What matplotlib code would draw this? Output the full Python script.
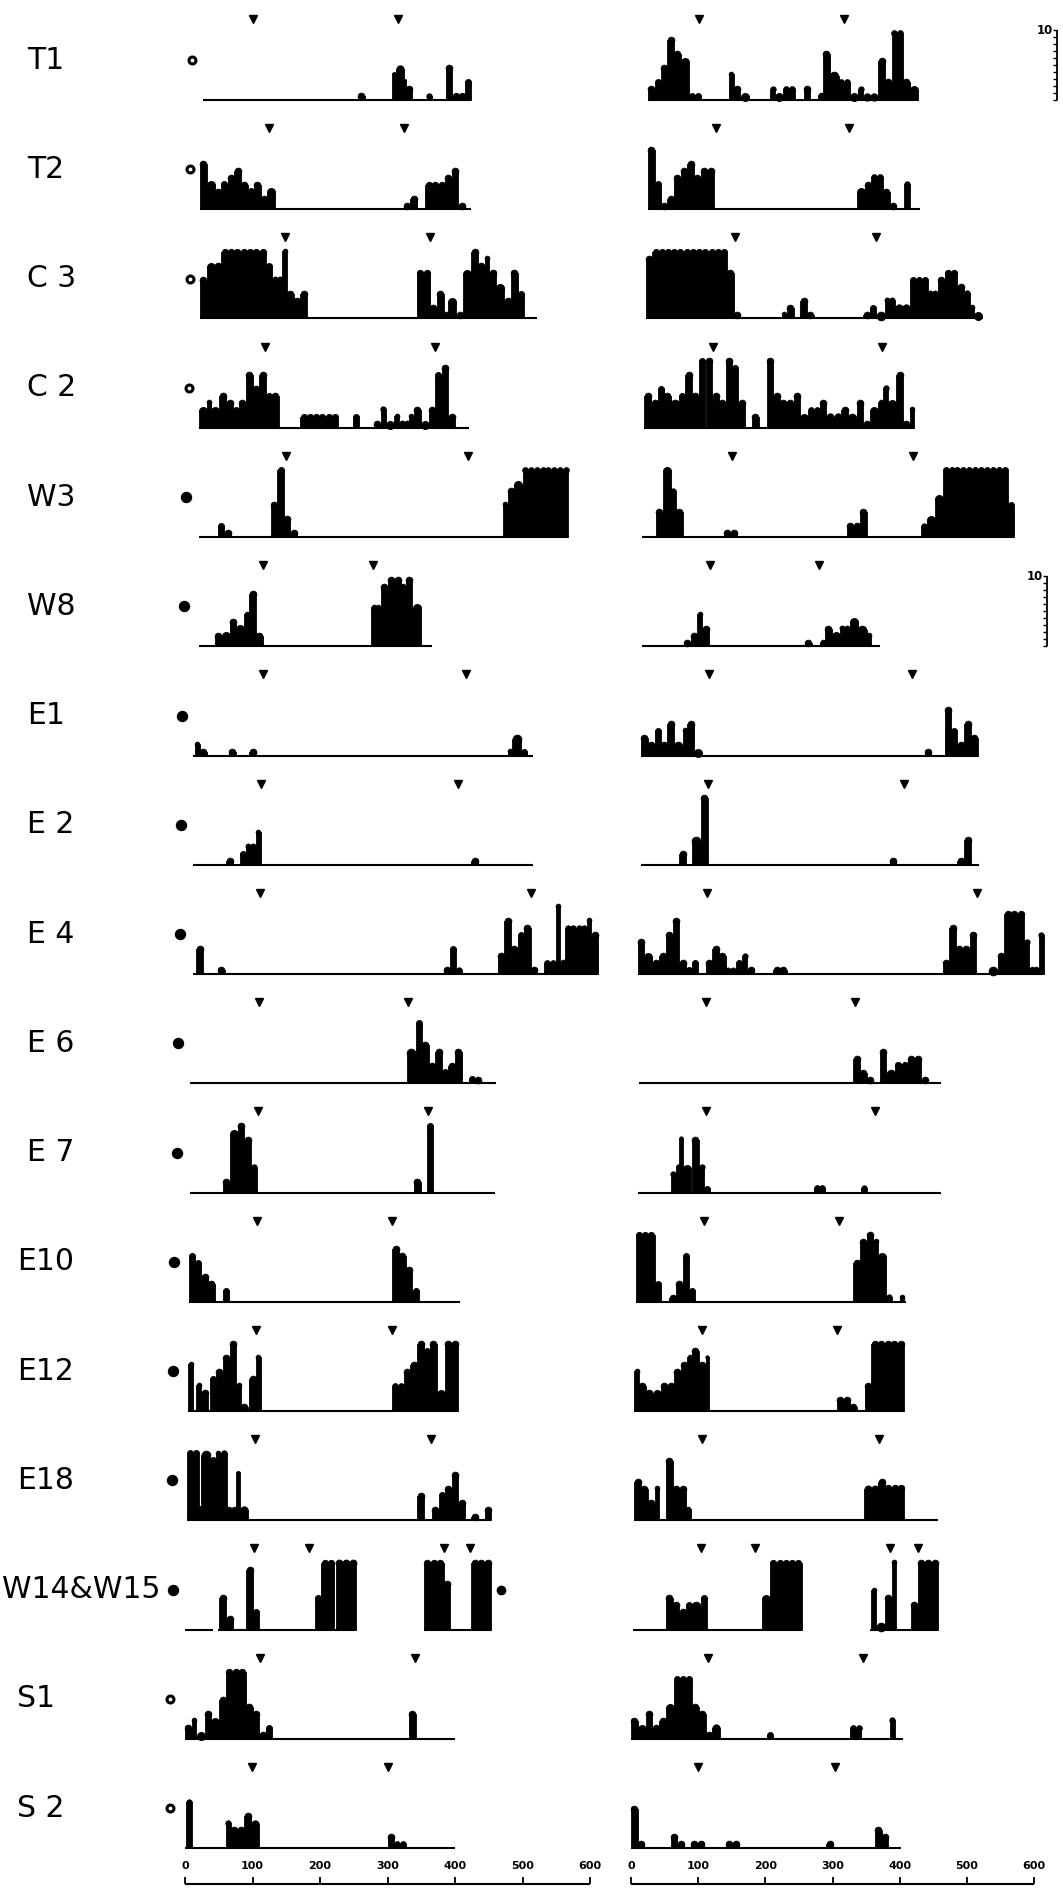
import numpy as np
import matplotlib
matplotlib.use("Agg")
import matplotlib.pyplot as plt

# row labels, top to bottom
labels = ['T1', 'T2', 'C 3', 'C 2', 'W3', 'W8', 'E1', 'E 2', 'E 4', 'E 6',
          'E 7', 'E10', 'E12', 'E18', 'W14&W15', 'S1', 'S 2']
# open (False) or filled (True) dot next to each label, and its time (s)
dot_filled = [False, False, False, False, True, True, True, True, True, True,
              True, True, True, True, True, False, False]
dot_t = [11, 8, 8, 6, 2, -2, -5, -6, -7, -11, -12, -16, -18, -19, -18, -22, -22]

# histogram runs: (start s, end s, count)
T1_left = [(256, 266, 1), (307, 313, 4), (313, 324, 5), (324, 327, 3), (327, 337, 2),
           (358, 366, 1), (386, 396, 5), (396, 415, 1), (415, 424, 3)]
T1_right = [(25, 35, 2), (35, 44, 3), (44, 54, 5), (54, 64, 9), (64, 74, 7), (74, 86, 6),
            (86, 104, 1), (146, 153, 4), (153, 163, 2), (163, 175, 1), (207, 215, 2),
            (215, 227, 1), (227, 244, 2), (257, 267, 2), (279, 286, 1), (286, 296, 7),
            (296, 309, 4), (309, 326, 3), (326, 338, 1), (338, 346, 2), (346, 368, 1),
            (368, 378, 6), (378, 388, 3), (388, 405, 10), (405, 415, 3), (415, 427, 2)]
T2_left = [(22, 32, 7), (32, 44, 4), (44, 54, 3), (54, 63, 4), (63, 73, 5), (73, 83, 6),
           (83, 93, 4), (93, 102, 3), (102, 112, 4), (112, 122, 2), (122, 134, 3),
           (324, 334, 1), (334, 344, 2), (356, 385, 4), (385, 395, 5), (395, 405, 6),
           (405, 415, 1)]
T2_right = [(25, 35, 9), (35, 44, 4), (44, 54, 1), (54, 64, 2), (64, 74, 5), (74, 84, 6),
            (84, 94, 7), (94, 104, 5), (104, 114, 6), (114, 124, 6), (336, 348, 3),
            (348, 358, 4), (358, 375, 5), (375, 385, 3), (385, 395, 1), (407, 415, 4)]
C3_left = [(22, 32, 6), (32, 44, 8), (44, 54, 8), (54, 120, 10), (120, 129, 8),
           (129, 144, 6), (144, 151, 10), (151, 161, 4), (161, 171, 3), (171, 181, 4),
           (344, 363, 7), (363, 373, 2), (373, 383, 4), (383, 390, 1), (390, 402, 3),
           (402, 412, 1), (412, 424, 7), (424, 434, 10), (434, 444, 8), (444, 451, 9),
           (451, 461, 7), (461, 473, 5), (473, 483, 3), (483, 493, 7), (493, 502, 4)]
C3_right = [(22, 32, 9), (32, 143, 10), (143, 153, 7), (153, 163, 1), (225, 232, 1),
            (232, 242, 2), (252, 262, 3), (262, 272, 1), (346, 356, 1), (356, 365, 2),
            (365, 378, 1), (378, 393, 3), (393, 415, 2), (415, 442, 6), (442, 457, 4),
            (457, 467, 6), (467, 486, 7), (486, 496, 5), (496, 504, 4), (504, 511, 2),
            (511, 523, 1)]
C2_left = [(20, 32, 3), (32, 39, 4), (39, 51, 3), (51, 61, 5), (61, 71, 4), (71, 80, 3),
           (80, 90, 4), (90, 100, 8), (100, 110, 6), (110, 120, 8), (120, 129, 5),
           (129, 139, 5), (171, 227, 2), (249, 258, 2), (280, 290, 1), (290, 298, 3),
           (298, 310, 1), (310, 317, 2), (317, 332, 1), (332, 339, 2), (339, 349, 3),
           (349, 361, 1), (361, 371, 3), (371, 380, 8), (380, 390, 9), (390, 400, 2)]
C2_right = [(20, 30, 5), (30, 40, 4), (40, 49, 6), (49, 59, 5), (59, 72, 4), (72, 81, 5),
            (81, 91, 8), (91, 101, 5), (101, 110, 10), (111, 121, 10), (121, 131, 5),
            (131, 141, 4), (141, 151, 10), (151, 160, 9), (160, 170, 4), (180, 190, 2),
            (202, 212, 10), (212, 222, 5), (222, 242, 4), (242, 252, 5), (252, 264, 2),
            (264, 281, 3), (281, 291, 4), (291, 313, 2), (313, 323, 3), (323, 336, 2),
            (336, 346, 4), (346, 356, 1), (356, 368, 3), (368, 375, 4), (375, 383, 6),
            (383, 395, 4), (395, 405, 8), (405, 415, 1), (415, 422, 3)]
W3_left = [(49, 58, 2), (58, 68, 1), (127, 137, 5), (137, 146, 10), (146, 156, 3),
           (156, 166, 1), (471, 478, 5), (478, 488, 7), (488, 500, 8), (500, 568, 10)]
W3_right = [(37, 47, 4), (47, 59, 10), (59, 67, 7), (67, 77, 4), (138, 158, 1),
            (321, 331, 2), (331, 341, 2), (341, 351, 4), (432, 440, 2), (440, 452, 3),
            (452, 464, 6), (464, 561, 10), (561, 570, 5)]
W8_left = [(44, 54, 2), (54, 66, 2), (66, 76, 4), (76, 88, 3), (88, 95, 5), (95, 105, 8),
           (105, 115, 2), (276, 290, 6), (290, 300, 9), (300, 320, 10), (320, 327, 9),
           (327, 337, 10), (337, 349, 6)]
W8_right = [(79, 89, 1), (89, 99, 2), (99, 106, 5), (106, 116, 3), (259, 269, 1),
            (282, 289, 1), (289, 299, 3), (299, 311, 2), (311, 326, 3), (326, 338, 4),
            (338, 351, 3), (351, 358, 2)]
E1_left = [(15, 22, 2), (22, 32, 1), (65, 75, 1), (95, 105, 1), (478, 485, 1),
           (485, 498, 3), (498, 507, 1)]
E1_right = [(15, 25, 3), (25, 35, 2), (35, 44, 4), (44, 54, 2), (54, 64, 5), (64, 77, 2),
            (77, 84, 4), (84, 94, 5), (94, 106, 1), (437, 447, 1), (467, 477, 7),
            (477, 486, 4), (486, 496, 2), (496, 506, 5), (506, 516, 3)]
E2_left = [(61, 71, 1), (81, 90, 2), (90, 105, 3), (105, 112, 5), (424, 434, 1)]
E2_right = [(72, 82, 2), (91, 104, 4), (104, 114, 10), (385, 395, 1), (486, 496, 1),
            (496, 506, 4)]
E4_left = [(17, 27, 4), (49, 59, 1), (383, 393, 1), (393, 402, 4), (402, 410, 1),
           (463, 473, 3), (473, 483, 8), (483, 493, 4), (493, 502, 6), (502, 512, 7),
           (512, 522, 1), (532, 549, 2), (549, 556, 10), (556, 563, 2), (563, 595, 7),
           (595, 602, 8), (602, 612, 6)]
E4_right = [(10, 20, 5), (20, 32, 3), (32, 42, 2), (42, 52, 3), (52, 62, 6), (62, 72, 8),
            (72, 82, 2), (82, 91, 1), (91, 100, 2), (111, 121, 2), (121, 131, 4),
            (131, 141, 3), (141, 156, 1), (156, 165, 2), (165, 173, 3), (173, 183, 1),
            (212, 232, 1), (464, 474, 2), (474, 484, 7), (484, 504, 4), (504, 514, 6),
            (533, 546, 1), (546, 556, 3), (556, 585, 9), (585, 593, 5), (593, 607, 1),
            (607, 615, 6)]
E6_left = [(329, 342, 5), (342, 351, 9), (351, 361, 6), (361, 371, 3), (371, 381, 5),
           (381, 390, 2), (390, 400, 3), (400, 410, 5), (420, 429, 1), (429, 439, 1)]
E6_right = [(331, 341, 4), (341, 351, 2), (351, 361, 1), (370, 380, 5), (380, 393, 2),
            (393, 412, 3), (412, 432, 4), (432, 442, 1)]
E7_left = [(56, 66, 2), (66, 78, 9), (78, 88, 10), (88, 98, 8), (98, 106, 4),
           (339, 349, 2), (359, 368, 10)]
E7_right = [(59, 67, 3), (67, 72, 4), (72, 77, 8), (77, 89, 4), (91, 101, 8),
            (101, 109, 4), (109, 118, 1), (272, 289, 1), (343, 351, 1)]
E10_left = [(6, 15, 7), (15, 24, 6), (24, 34, 4), (34, 44, 3), (56, 65, 2), (307, 317, 8),
            (317, 327, 7), (327, 337, 5), (337, 346, 2)]
E10_right = [(7, 35, 10), (35, 44, 3), (57, 67, 1), (67, 77, 3), (77, 86, 7), (86, 95, 2),
             (331, 341, 6), (341, 351, 9), (351, 361, 10), (361, 368, 9), (368, 380, 7),
             (380, 388, 1), (400, 407, 1)]
E12_left = [(5, 12, 7), (17, 24, 4), (24, 34, 3), (37, 46, 5), (46, 56, 6), (56, 66, 8),
            (66, 76, 10), (76, 83, 4), (83, 93, 1), (95, 105, 5), (105, 112, 8),
            (307, 324, 4), (324, 334, 6), (334, 344, 7), (344, 354, 10), (354, 363, 9),
            (363, 373, 10), (373, 385, 3), (385, 405, 10)]
E12_right = [(5, 12, 6), (12, 22, 4), (22, 32, 3), (32, 44, 3), (44, 54, 4), (54, 64, 4),
             (64, 74, 6), (74, 84, 7), (84, 91, 8), (91, 101, 9), (101, 111, 7),
             (111, 116, 8), (306, 316, 2), (316, 326, 2), (326, 336, 1), (348, 358, 4),
             (358, 407, 10)]
E18_left = [(3, 21, 10), (21, 24, 2), (24, 37, 10), (37, 46, 9), (46, 53, 10),
            (53, 54, 3), (54, 62, 10), (62, 76, 2), (76, 82, 7), (82, 93, 2),
            (344, 354, 4), (366, 376, 2), (376, 385, 4), (385, 395, 5), (395, 405, 7),
            (405, 415, 3), (424, 434, 1), (444, 454, 2)]
E18_right = [(5, 15, 6), (15, 25, 5), (25, 35, 3), (35, 42, 5), (52, 62, 9), (62, 72, 5),
             (72, 82, 5), (82, 89, 2), (347, 368, 5), (368, 378, 6), (378, 407, 5)]
W14_left = [(51, 61, 5), (61, 71, 2), (91, 101, 9), (101, 110, 3), (193, 202, 5),
            (202, 221, 10), (223, 254, 10), (354, 383, 10), (383, 393, 7), (424, 454, 10)]
W14_right = [(52, 62, 5), (62, 72, 4), (72, 82, 3), (82, 91, 4), (91, 104, 4),
             (104, 113, 5), (195, 207, 5), (207, 254, 10), (358, 365, 6), (365, 378, 1),
             (378, 388, 5), (388, 395, 10), (417, 427, 4), (427, 457, 10)]
S1_left = [(0, 10, 2), (10, 17, 3), (17, 29, 1), (29, 39, 4), (39, 51, 3), (51, 61, 6),
           (61, 90, 10), (90, 100, 5), (100, 110, 4), (110, 120, 1), (120, 129, 2),
           (332, 342, 4)]
S1_right = [(0, 10, 3), (10, 22, 2), (22, 32, 4), (32, 42, 2), (42, 52, 3), (52, 64, 5),
            (64, 91, 9), (91, 101, 5), (101, 111, 4), (111, 121, 1), (121, 132, 2),
            (203, 212, 1), (326, 343, 2), (385, 393, 3)]
S2_left = [(2, 10, 7), (60, 68, 4), (68, 88, 3), (88, 98, 5), (98, 109, 4), (300, 310, 2),
           (310, 327, 1)]
S2_right = [(0, 10, 6), (10, 20, 1), (59, 69, 2), (69, 79, 1), (89, 109, 1), (141, 161, 1),
            (291, 301, 1), (363, 373, 3), (373, 383, 2)]

runs_left = [T1_left, T2_left, C3_left, C2_left, W3_left, W8_left, E1_left, E2_left,
             E4_left, E6_left, E7_left, E10_left, E12_left, E18_left, W14_left,
             S1_left, S2_left]
runs_right = [T1_right, T2_right, C3_right, C2_right, W3_right, W8_right, E1_right,
              E2_right, E4_right, E6_right, E7_right, E10_right, E12_right, E18_right,
              W14_right, S1_right, S2_right]

# time axis (baseline) extent of each record
base_left = [[(27, 424)], [(22, 424)], [(22, 522)], [(20, 420)], [(20, 568)], [(20, 366)],
             [(12, 515)], [(12, 515)], [(12, 612)], [(7, 461)], [(7, 459)], [(6, 407)],
             [(5, 405)], [(3, 454)], [(0, 41), (49, 254), (354, 454)], [(0, 400)],
             [(0, 400)]]
base_right = [[(25, 427)], [(25, 430)], [(22, 523)], [(20, 422)], [(17, 570)],
              [(17, 370)], [(15, 516)], [(15, 518)], [(10, 615)], [(12, 462)],
              [(10, 462)], [(7, 410)], [(5, 407)], [(5, 457)], [(3, 254), (356, 457)],
              [(0, 405)], [(0, 402)]]

# stimulus markers (s)
tri_left = [[101, 316], [125, 324], [148, 363], [118, 371], [149, 419], [116, 279],
            [116, 416], [112, 405], [111, 513], [109, 331], [108, 360], [106, 307],
            [105, 306], [103, 364], [102, 184, 384, 422], [111, 340], [99, 300]]
tri_right = [[101, 317], [126, 325], [155, 365], [122, 374], [151, 420], [118, 280],
             [116, 419], [115, 406], [113, 515], [111, 333], [112, 363], [109, 310],
             [106, 307], [105, 369], [104, 185, 386, 427], [115, 346], [100, 304]]

ticks = [0, 100, 200, 300, 400, 500, 600]

# ---- layout (pixels) ----
W, H = 1063, 1892
COLS = [(185, 590), (631, 1034)]
UNIT = 7.0            # px per count
Y0, DY = 100, 109.25  # first baseline, row spacing
YLO, YHI = -3, 13

fig = plt.figure(figsize=(W / 100, H / 100), dpi=100)


def make_axes(x0, x1, top, bottom, ylim):
    ax = fig.add_axes([x0 / W, 1 - bottom / H, (x1 - x0) / W, (bottom - top) / H])
    ax.set_xlim(0, 600)
    ax.set_ylim(*ylim)
    ax.axis('off')
    return ax


def draw_runs(ax, runs, px_per_s):
    for a, b, h in runs:
        n = max(1, int(round((b - a) / 9.0)))
        w = (b - a) / n
        r_px = w * px_per_s / 2
        top = max(h - r_px / UNIT, 0.05)
        ax.bar(a, top, width=b - a, align='edge', color='k', ec='k', lw=0.6,
               clip_on=False)
        xs = a + w * (np.arange(n) + 0.5)
        ax.scatter(xs, np.full(n, top), s=(2 * r_px * 0.72) ** 2, c='k', ec='k',
                   lw=0.6, marker='o', clip_on=False)


for r in range(len(labels)):
    yb = Y0 + r * DY
    for c, (runs, bases, tris) in enumerate([(runs_left, base_left, tri_left),
                                              (runs_right, base_right, tri_right)]):
        x0, x1 = COLS[c]
        pps = (x1 - x0) / 600.0
        ax = make_axes(x0, x1, yb - YHI * UNIT, yb - YLO * UNIT, (YLO, YHI))
        for a, b in bases[r]:
            ax.hlines(0, a, b, color='k', lw=1.5, clip_on=False)
        draw_runs(ax, runs[r], pps)
        ax.plot(tris[r], [11.6] * len(tris[r]), 'kv', ms=6, clip_on=False)
        if c == 0:
            fc = 'k' if dot_filled[r] else 'w'
            ax.plot(dot_t[r], 5.7, 'o', ms=6 if dot_filled[r] else 5, mfc=fc, mec='k',
                    mew=2.2, clip_on=False)
            if labels[r] == 'W14&W15':
                ax.plot(468, 5.7, 'o', ms=6, mfc='k', mec='k', clip_on=False)
        # 10-count scale bars
        if c == 1 and r in (0, 5):
            sx = 634 if r == 0 else 619
            ax.vlines(sx, 0, 10, color='k', lw=1.3, clip_on=False)
            ax.hlines(np.arange(0, 11), sx - 5, sx, color='k', lw=1, clip_on=False)
            ax.text(sx - 6, 10, '10', fontsize=8.5, ha='right', va='center',
                    fontweight='bold')
    lx = 27 if r < 11 else (2 if labels[r] == 'W14&W15' else 17)
    fig.text(lx / W, 1 - (yb - 5.7 * UNIT) / H, labels[r], fontsize=21.5,
             va='center', ha='left')

# time scales at the bottom
for x0, x1 in COLS:
    ax = make_axes(x0, x1, 1854, 1884, (0, 1))
    ax.hlines(0, 0, 600, color='k', lw=1.5, clip_on=False)
    ax.vlines(ticks, 0, 0.25, color='k', lw=1.3, clip_on=False)
    for t in ticks:
        ax.text(t, 0.6, str(t), fontsize=8, ha='center', va='center', fontweight='bold')

fig.savefig('out.png', dpi=100, facecolor='white')
